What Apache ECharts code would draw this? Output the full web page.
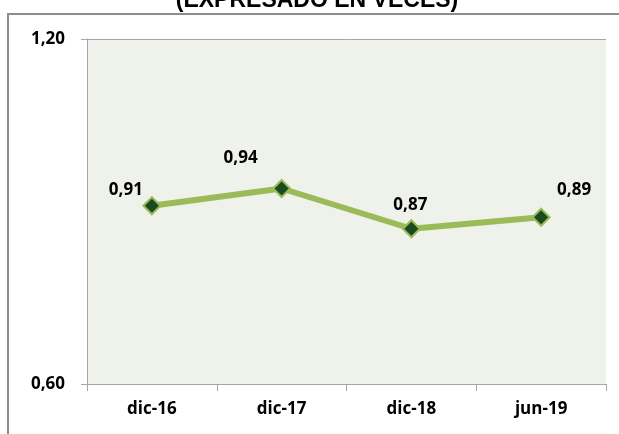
<!DOCTYPE html>
<html lang="es">
<head>
  <meta charset="utf-8" />
  <title>Expresado en veces</title>
  <script src="https://cdn.jsdelivr.net/npm/echarts@6.0.0/dist/echarts.min.js"></script>
  <style>
    html, body { margin: 0; padding: 0; background: #fff; }
  </style>
</head>
<body>
  <div id="main" style="width: 619px;height:434px;"></div>
  <script>
    var categories = ['dic-16', 'dic-17', 'dic-18', 'jun-19']
    var values = [0.91, 0.94, 0.87, 0.89]
    // label offsets so the numbers sit where the original puts them
    var labelOffsets = [[-26, 7], [-41, -7], [-1, -1], [33, -4]]
    var yTicks = [0.6, 1.2]

    var chartDom = document.getElementById('main');
    var myChart = echarts.init(chartDom);
    var font = '"Open Sans", "Liberation Sans", sans-serif';

    var seriesData = values.map(function (v, i) {
      return {
        value: v,
        label: { offset: labelOffsets[i] }
      }
    })

    var option = {
      animation: false,
      graphic: [
        {
          type: 'rect',
          shape: { x: 8, y: 14, width: 700, height: 500 },
          style: { fill: 'none', stroke: '#8c8c8c', lineWidth: 2 },
          z: -10
        },
        {
          type: 'text',
          x: 317, y: -11,
          style: {
            text: '(EXPRESADO EN VECES)',
            font: 'bold 23px "Liberation Sans", Arial, sans-serif',
            fill: '#000',
            align: 'center',
            verticalAlign: 'top'
          }
        }
      ],
      grid: {
        left: 87,
        right: 13,
        top: 39,
        bottom: 50,
        show: true,
        backgroundColor: '#eff2ea',
        borderWidth: 0
      },
      xAxis: {
        type: 'category',
        data: categories,
        boundaryGap: true,
        axisLine: { lineStyle: { color: '#a6a6a6', width: 1 } },
        axisTick: { show: true, length: 7, lineStyle: { color: '#a6a6a6' } },
        axisLabel: {
          margin: 17,
          color: '#000',
          fontFamily: font,
          fontWeight: 'bold',
          fontSize: 17
        }
      },
      yAxis: {
        type: 'value',
        min: yTicks[0],
        max: yTicks[yTicks.length - 1],
        interval: yTicks[1] - yTicks[0],
        axisLine: { show: true, lineStyle: { color: '#a6a6a6', width: 1 } },
        axisTick: { show: true, length: 6, lineStyle: { color: '#a6a6a6' } },
        splitLine: { show: true, lineStyle: { color: '#a6a6a6', width: 1 } },
        axisLabel: {
          margin: 22,
          color: '#000',
          fontFamily: font,
          fontWeight: 'bold',
          fontSize: 17,
          formatter: function (v) { return v.toFixed(2).replace('.', ',') }
        }
      },
      series: [
        {
          type: 'line',
          data: seriesData,
          symbol: 'diamond',
          symbolSize: 17,
          lineStyle: { color: '#9bbb59', width: 6 },
          itemStyle: { color: '#1b4a1f', borderColor: '#9bbb59', borderWidth: 2 },
          label: {
            show: true,
            position: 'top',
            color: '#000',
            fontFamily: font,
            fontWeight: 'bold',
            fontSize: 17,
            formatter: function (p) { return p.value.toFixed(2).replace('.', ',') }
          }
        }
      ]
    };
    myChart.setOption(option);
  </script>
</body>
</html>
